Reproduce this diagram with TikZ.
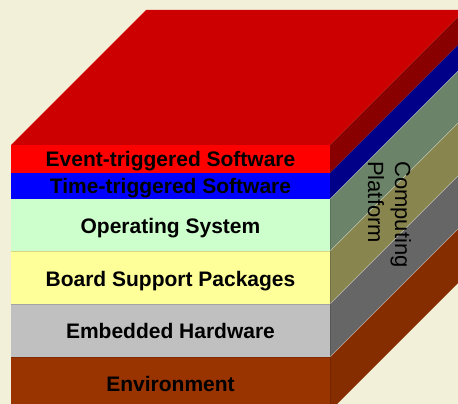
\documentclass[tikz,border=0pt]{standalone}
\usepackage{fontspec}
\setmainfont{Liberation Sans}
\definecolor{paper}{HTML}{F3F0DA}
\definecolor{topred}{HTML}{CC0000}
\definecolor{evfront}{HTML}{FF0000}
\definecolor{evside}{HTML}{880000}
\definecolor{ttfront}{HTML}{0000FF}
\definecolor{ttside}{HTML}{000088}
\definecolor{osfront}{HTML}{CCFFCC}
\definecolor{osside}{HTML}{6B8469}
\definecolor{bspfront}{HTML}{FFFF99}
\definecolor{bspside}{HTML}{88854F}
\definecolor{hwfront}{HTML}{C0C0C0}
\definecolor{hwside}{HTML}{666666}
\definecolor{envfront}{HTML}{993300}
\definecolor{envside}{HTML}{862D00}
\begin{document}
\begin{tikzpicture}[x=1pt,y=-1pt,
  layerlabel/.style={font=\bfseries\fontsize{21}{25}\selectfont, anchor=base, inner sep=0pt, text=black},
  sidelabel/.style={font=\fontsize{22}{26}\selectfont, rotate=-90, anchor=base west, inner sep=0pt, text=black},
  seam/.style={line width=0.6pt, draw=black, draw opacity=0.15},
  sideseam/.style={line width=0.6pt, draw=white, draw opacity=0.45}]
\useasboundingbox (0,0) rectangle (458,404);
\clip (0,0) rectangle (458,404);
\fill[paper] (0,0) rectangle (458,404);
% top face of the stack
\fill[topred] (11,145) -- (146,10) -- (465,10) -- (330,145) -- cycle;
% layers: front face and receding right face
\foreach \t/\b/\fc/\sc in {145/173/evfront/evside, 173/199/ttfront/ttside,
    199/251/osfront/osside, 251/304/bspfront/bspside,
    304/357/hwfront/hwside, 357/411/envfront/envside} {
  \fill[\fc] (11,\t) rectangle (330,\b);
  \fill[\sc] (330,\t) -- (465,{\t-135}) -- (465,{\b-135}) -- (330,\b) -- cycle;
}
% seams between the lower layers
\foreach \y in {251,304,357} {
  \draw[seam] (11,\y) -- (330,\y);
}
\foreach \y in {199,251,304,357} {
  \draw[sideseam] (330,\y) -- (465,{\y-135});
}
\draw[seam] (330,199) -- (330,411);
% layer names
\node[layerlabel] (ev)  at (170.5,166.7) {Event-triggered Software};
\node[layerlabel] (tt)  at (170.5,193.3) {Time-triggered Software};
\node[layerlabel] (os)  at (170.5,233.3) {Operating System};
\node[layerlabel] (bsp) at (170.5,286.0) {Board Support Packages};
\node[layerlabel] (hw)  at (170.5,338.3) {Embedded Hardware};
\node[layerlabel] (env) at (170.5,391.7) {Environment};
% label on the side faces
\node[sidelabel] (cp1) at (395,161) {Computing};
\node[sidelabel] (cp2) at (368,161) {Platform};
\end{tikzpicture}
\end{document}
